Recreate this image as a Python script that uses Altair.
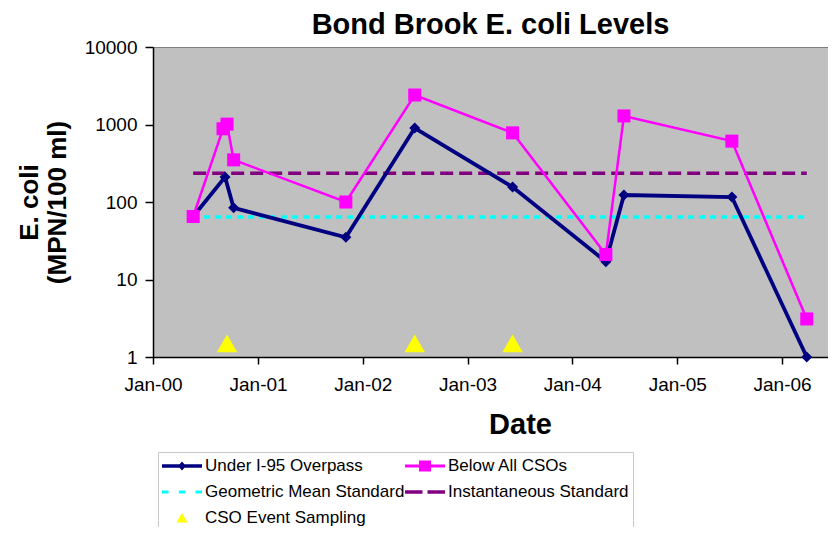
import altair as alt
import pandas as pd

# ---- data ----
# legend fills column by column: col 1 = Under I-95, Geometric, CSO event; col 2 = Below CSOs, Instantaneous
series_names = ["Under I-95 Overpass", "Geometric Mean Standard", "CSO Event Sampling",
                "Below All CSOs", "Instantaneous Standard"]

i95_dates = ["2000-05-20", "2000-09-08", "2000-10-08", "2001-11-03", "2002-07-01",
             "2003-06-07", "2004-04-27", "2004-06-29", "2005-07-10", "2006-03-28"]
i95_values = [65, 210, 84, 35, 900, 156, 17, 123, 116, 1]

cso_dates = ["2000-05-20", "2000-09-01", "2000-09-15", "2000-10-08", "2001-11-03",
             "2002-07-01", "2003-06-07", "2004-04-27", "2004-06-29", "2005-07-10",
             "2006-03-28"]
cso_values = [65, 880, 1010, 350, 100, 2400, 780, 21, 1290, 610, 3.1]

standard_dates = ["2000-05-20", "2006-03-28"]
geo_mean_values = [64, 64]
instantaneous_values = [235, 235]

event_dates = ["2000-09-15", "2002-07-01", "2003-06-07"]
event_values = [1.5, 1.5, 1.5]

year_ticks = [2000, 2001, 2002, 2003, 2004, 2005, 2006]
y_ticks = [1, 10, 100, 1000, 10000]

# ---- styles ----
NAVY, CYAN, YELLOW, MAGENTA, PURPLE = "#000080", "#00FFFF", "#FFFF00", "#FF00FF", "#800080"
colors = [NAVY, CYAN, YELLOW, MAGENTA, PURPLE]
legend_paths = [
    "M-1,-0.18L3,-0.18L3,0.18L-1,0.18Z M1,-0.45L1.4,0L1,0.45L0.6,0Z",
    "M-1,-0.15L-0.35,-0.15L-0.35,0.15L-1,0.15Z M0.68,-0.15L1.32,-0.15L1.32,0.15L0.68,0.15Z M2.35,-0.15L3,-0.15L3,0.15L2.35,0.15Z",
    "M1,-0.5L1.55,0.45L0.45,0.45Z",
    "M-1,-0.14L3,-0.14L3,0.14L-1,0.14Z M0.4,-0.55L1.6,-0.55L1.6,0.55L0.4,0.55Z",
    "M-1,-0.17L0.75,-0.17L0.75,0.17L-1,0.17Z M1.25,-0.17L3,-0.17L3,0.17L1.25,0.17Z",
]
FONT = "Liberation Sans, Arial, sans-serif"


def frame(dates, values, name):
    return pd.DataFrame({"date": pd.to_datetime(dates), "value": values, "series": name})


i95 = frame(i95_dates, i95_values, "Under I-95 Overpass")
cso = frame(cso_dates, cso_values, "Below All CSOs")
geo = frame(standard_dates, geo_mean_values, "Geometric Mean Standard")
inst = frame(standard_dates, instantaneous_values, "Instantaneous Standard")
events = frame(event_dates, event_values, "CSO Event Sampling")
# legend carrier: lies below the log axis floor and is clipped away
legend_df = pd.DataFrame({"date": pd.to_datetime([i95_dates[0]] * 5),
                          "value": [0.1] * 5, "series": series_names})

x_enc = alt.X(
    "date:T",
    scale=alt.Scale(domain=[alt.DateTime(year=2000, month=1, date=1),
                            alt.DateTime(year=2006, month=6, date=10)]),
    axis=alt.Axis(
        values=[alt.DateTime(year=y, month=1, date=1) for y in year_ticks],
        format="%b-%y", tickSize=7, labelPadding=11, labelFontSize=19, labelFont=FONT,
        labelColor="black", labelFlush=False, labelOverlap=False,
        domainColor="black", tickColor="black", domainWidth=1.5, tickWidth=1.5, grid=False,
        title="Date", titleFont=FONT, titleFontSize=29, titleFontWeight="bold",
        titleColor="black", titleX=367, titleY=76, titleBaseline="alphabetic",
        titleAlign="center",
    ),
)
y_enc = alt.Y(
    "value:Q",
    scale=alt.Scale(type="log", domain=[1, 10000]),
    axis=alt.Axis(
        values=y_ticks, format="d", tickSize=8, labelPadding=8, labelFontSize=19,
        labelFont=FONT, labelColor="black", labelFlush=False, labelOverlap=False,
        domainColor="black", tickColor="black", domainWidth=1.5, tickWidth=1.5, grid=False,
        title=["E. coli", "(MPN/100 ml)"], titleFont=FONT, titleFontSize=26,
        titleFontWeight="bold", titleColor="black", titlePadding=14, titleLineHeight=28,
    ),
)

base_geo = alt.Chart(geo).mark_line(color=CYAN, strokeWidth=3.5, strokeDash=[6, 5]).encode(x=x_enc, y=y_enc)
base_inst = alt.Chart(inst).mark_line(color=PURPLE, strokeWidth=3.5, strokeDash=[13, 6]).encode(x=x_enc, y=y_enc)

i95_line = alt.Chart(i95).mark_line(color=NAVY, strokeWidth=3.8).encode(x=x_enc, y=y_enc)
i95_pts = alt.Chart(i95).mark_point(shape="diamond", filled=True, size=121, color=NAVY, opacity=1).encode(x=x_enc, y=y_enc)
cso_line = alt.Chart(cso).mark_line(color=MAGENTA, strokeWidth=2.5).encode(x=x_enc, y=y_enc)
cso_pts = alt.Chart(cso).mark_square(size=170, color=MAGENTA, opacity=1).encode(x=x_enc, y=y_enc)
event_pts = alt.Chart(events).mark_point(shape="triangle-up", filled=True, size=420, color=YELLOW, opacity=1).encode(x=x_enc, y=y_enc)

legend_layer = alt.Chart(legend_df).mark_point(filled=True, opacity=1, clip=True).encode(
    x=x_enc, y=y_enc,
    color=alt.Color("series:N", scale=alt.Scale(domain=series_names, range=colors),
                    legend=alt.Legend(
                        title=None, orient="none", legendX=5, legendY=405, columns=2,
                        symbolSize=400, symbolStrokeWidth=0,
                        labelFont=FONT, labelFontSize=17, labelColor="black",
                        labelOffset=23, labelLimit=400, padding=4, columnPadding=0,
                        rowPadding=8, strokeColor="#c8c8c8", fillColor="white",
                    )),
    shape=alt.Shape("series:N", scale=alt.Scale(domain=series_names, range=legend_paths)),
)

chart = alt.layer(
    base_geo, base_inst, i95_line, cso_line, i95_pts, cso_pts, event_pts, legend_layer
).properties(
    width=675, height=310,
    padding={"left": 145, "top": 39, "right": 0, "bottom": 170},
    autosize=alt.AutoSizeParams(type="none"),
    title=alt.TitleParams("Bond Brook E. coli Levels", font=FONT, fontSize=29,
                          fontWeight="bold", color="black", anchor="middle", offset=-2),
).configure_view(
    fill="#C0C0C0", stroke="#808080", strokeWidth=1
)

chart.save("out.html", embed_options={"renderer": "svg", "actions": False})
